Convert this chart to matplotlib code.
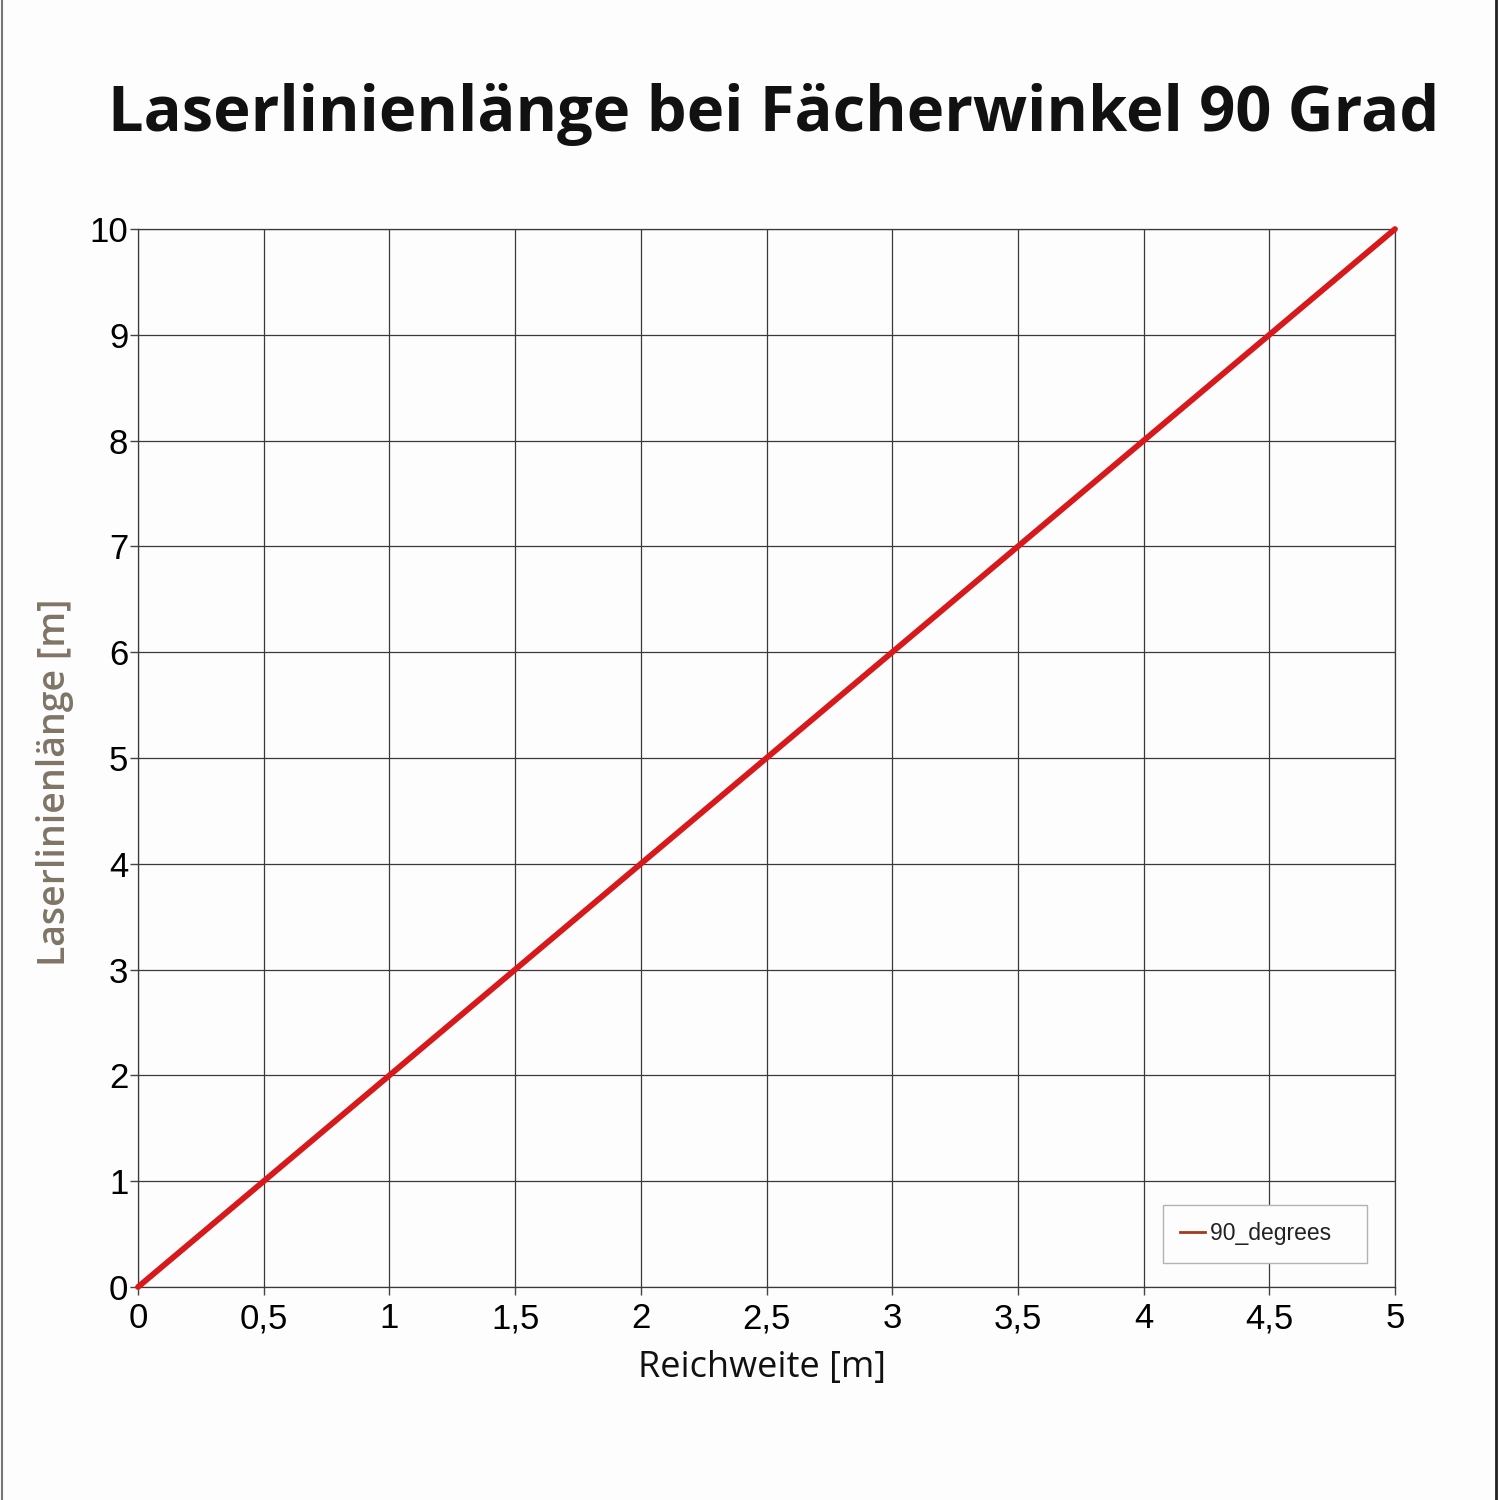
import matplotlib
matplotlib.use('Agg')
from matplotlib import pyplot as plt
from matplotlib.lines import Line2D

# Reichweite [m] vs. Laserlinienlaenge [m] at 90 degree fan angle
reichweite = [0, 0.5, 1, 1.5, 2, 2.5, 3, 3.5, 4, 4.5, 5]
laenge = [0, 1, 2, 3, 4, 5, 6, 7, 8, 9, 10]

x_ticks = [0, 0.5, 1, 1.5, 2, 2.5, 3, 3.5, 4, 4.5, 5]
x_labels = ['0', '0,5', '1', '1,5', '2', '2,5', '3', '3,5', '4', '4,5', '5']
y_ticks = [0, 1, 2, 3, 4, 5, 6, 7, 8, 9, 10]
y_labels = [str(v) for v in y_ticks]

fig = plt.figure(figsize=(15, 15), dpi=100)
fig.patch.set_facecolor('#fdfdfd')
ax = fig.add_axes([0.092, 0.142, 0.838, 0.7053])
ax.set_facecolor('#fdfdfd')

ax.plot(reichweite, laenge, color='#d7191c', linewidth=4.2, solid_capstyle='round',
        zorder=3, clip_on=False)

ax.set_xlim(0, 5)
ax.set_ylim(0, 10)
ax.set_xticks(x_ticks)
ax.set_xticklabels(x_labels, family='Liberation Sans', fontsize=25)
ax.set_yticks(y_ticks)
ax.set_yticklabels(y_labels, family='Liberation Sans', fontsize=25)
ax.tick_params(direction='out', length=6, width=1, color='#444444')
ax.tick_params(axis='x', pad=5)
ax.tick_params(axis='y', pad=1)

ax.grid(True, color='#3a3a3a', linewidth=0.9)
ax.set_axisbelow(True)
for s in ax.spines.values():
    s.set_color('#3a3a3a')
    s.set_linewidth(0.9)

ax.set_xlabel('Reichweite [m]', family='Open Sans', fontsize=26, color='#111111')
ax.xaxis.set_label_coords(0.4964, -0.0595)
ax.set_ylabel('Laserlinienlänge [m]', family='Open Sans', fontweight='semibold',
              fontsize=27, color='#7f7566', va='center')
ax.yaxis.set_label_coords(-0.066, 0.477)

fig.text(0.516, 0.9235, 'Laserlinienlänge bei Fächerwinkel 90 Grad', family='Open Sans',
         fontweight='bold', fontsize=45.5, color='#111111', ha='center', va='center')

handle = Line2D([], [], color='#a33a1c', linewidth=2)
leg = ax.legend([handle], ['90_degrees   '], loc='lower right', bbox_to_anchor=(0.978, 0.023),
                borderaxespad=0, fancybox=False, framealpha=1, edgecolor='#b3b3b3',
                prop={'family': 'Liberation Sans', 'size': 16.5}, handlelength=1.1,
                handletextpad=0.2, borderpad=0.75, labelspacing=0)
leg.get_frame().set_linewidth(1)
leg.get_frame().set_facecolor('#fdfdfd')
leg.set_zorder(5)
for text in leg.get_texts():
    text.set_color('#222222')

# thin page edges
fig.add_artist(Line2D([0.001, 0.001], [0, 1], color='#777777', linewidth=1.5))
fig.add_artist(Line2D([0.9975, 0.9975], [0, 1], color='#222222', linewidth=2))

fig.savefig('out.png', dpi=100, facecolor=fig.get_facecolor())
